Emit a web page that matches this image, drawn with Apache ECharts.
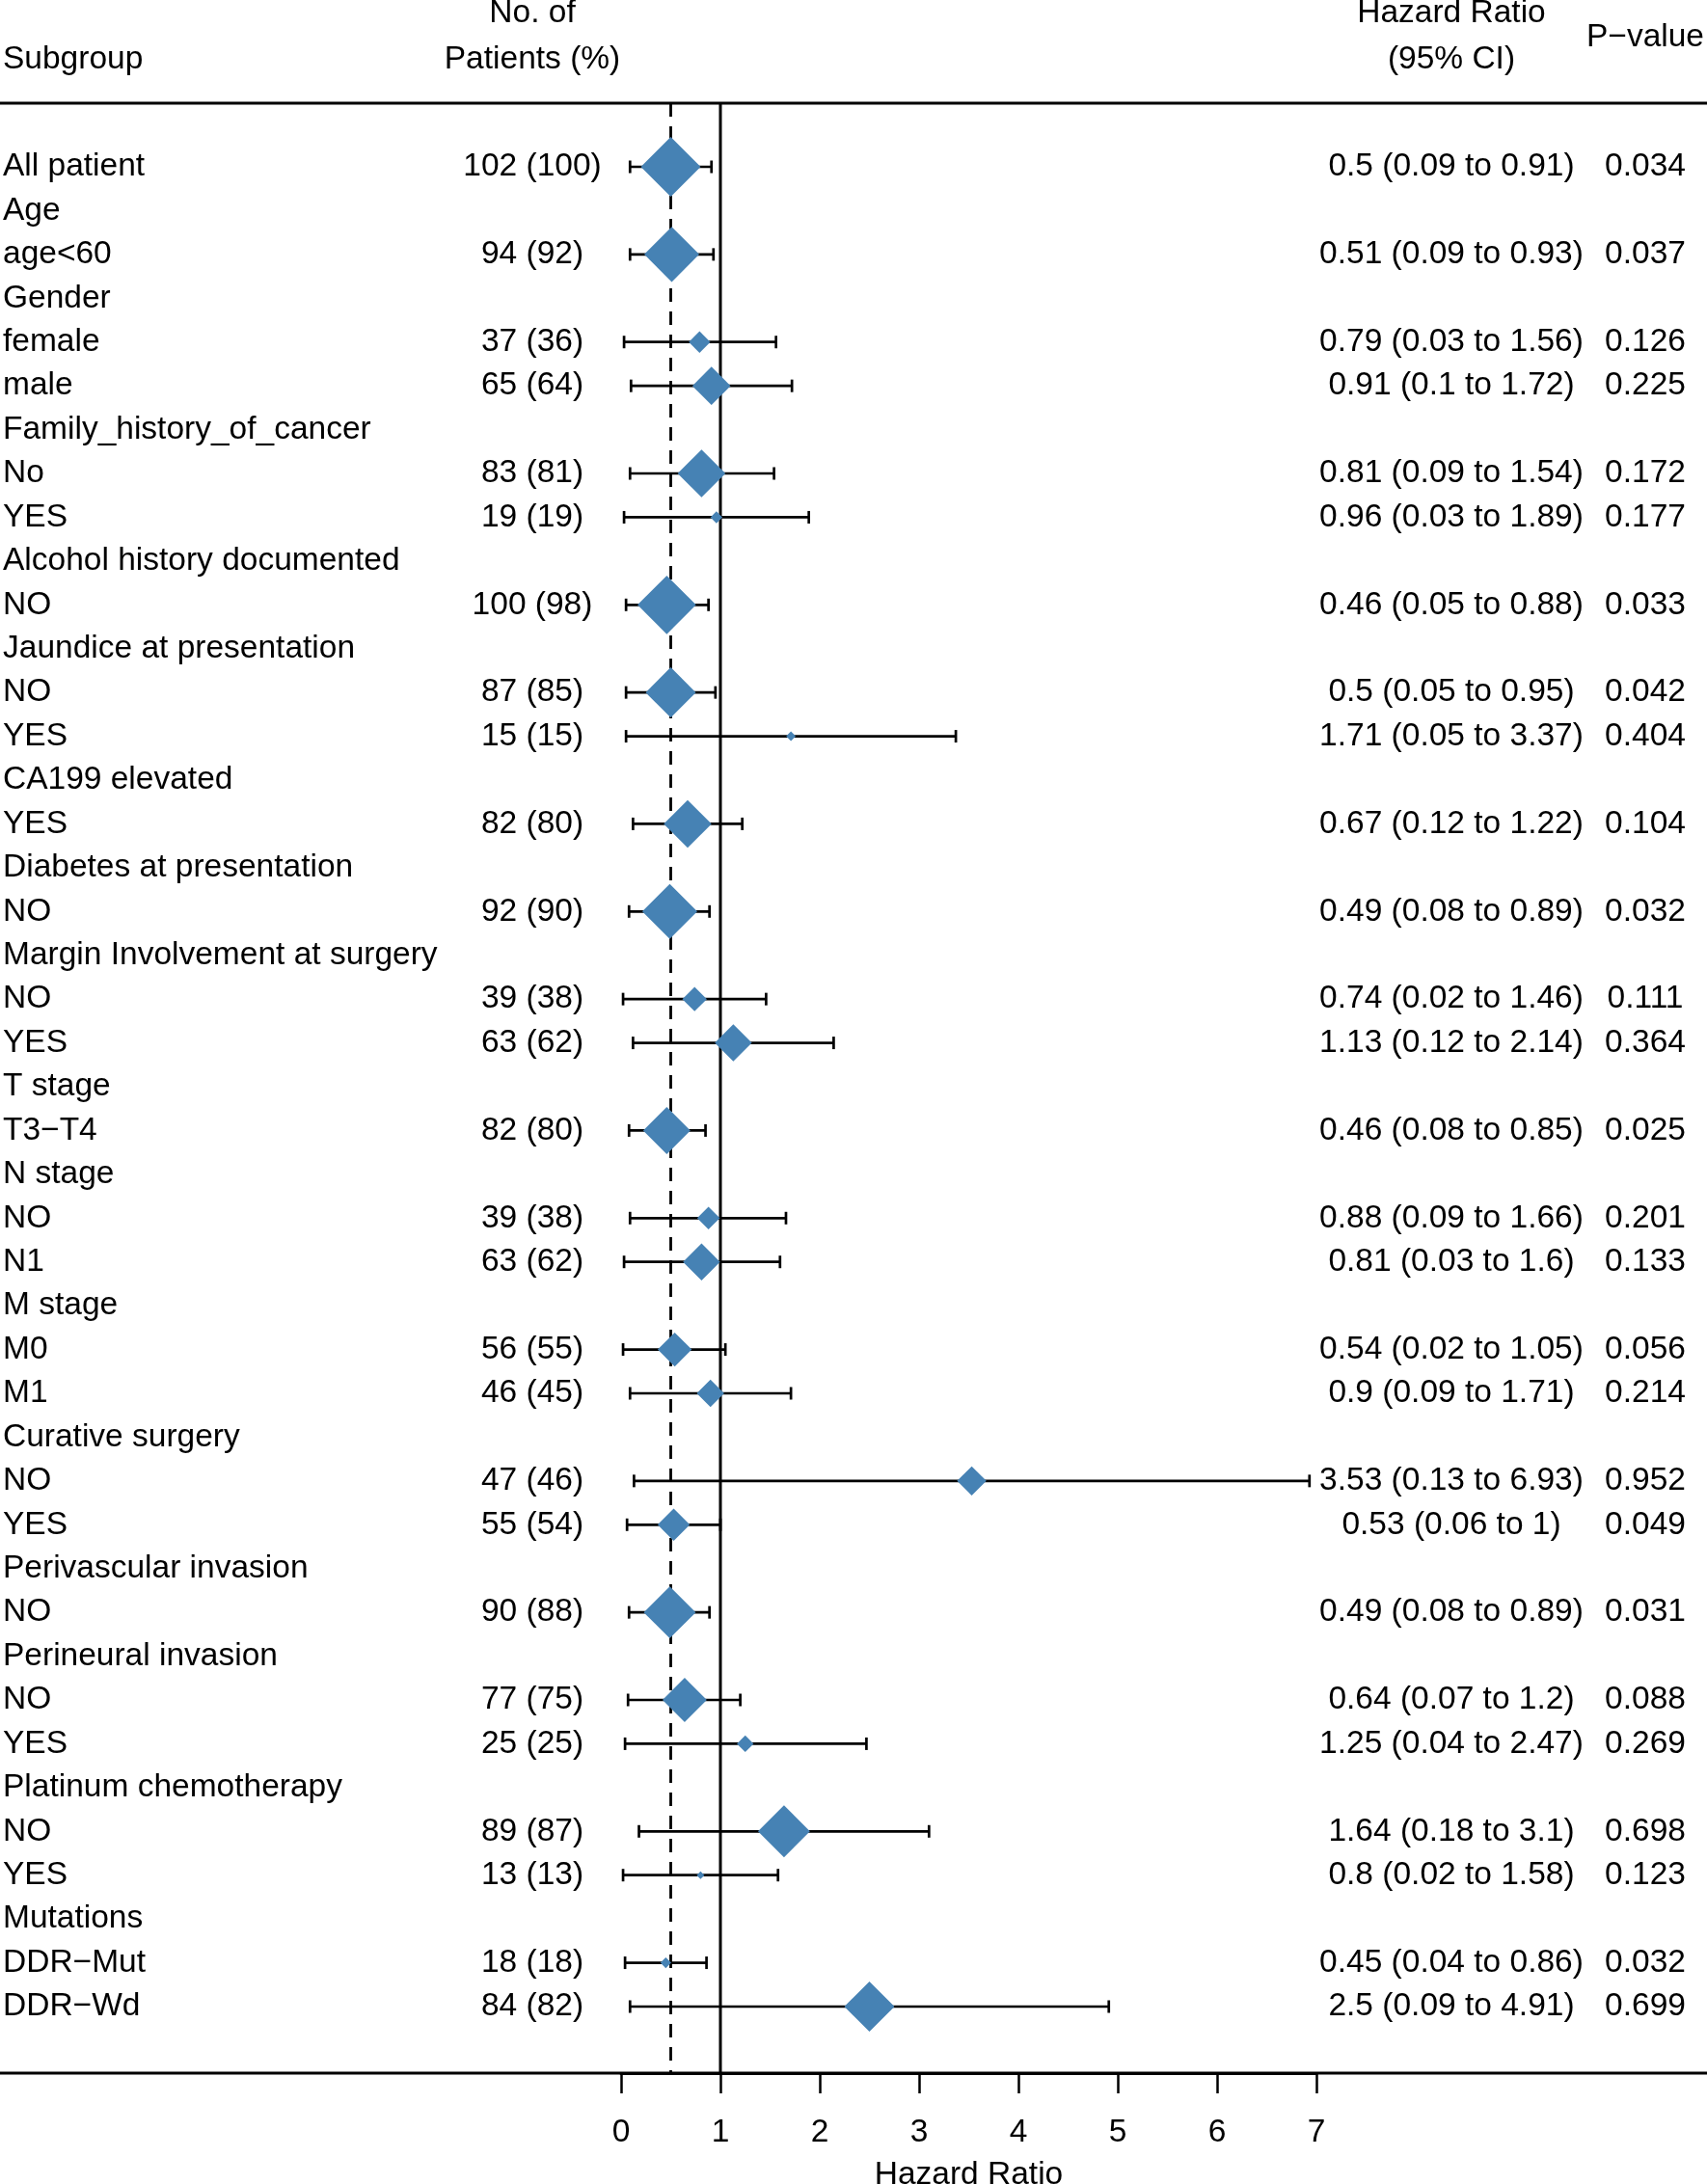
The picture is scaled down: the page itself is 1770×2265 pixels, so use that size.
<!DOCTYPE html>
<html><head><meta charset="utf-8">
<script src="https://cdn.jsdelivr.net/npm/echarts@6/dist/echarts.min.js"></script>
<style>html,body{margin:0;padding:0;background:#fff}#chart{width:1770px;height:2265px}</style>
</head><body><div id="chart"></div>
<script>
// ---------- data ----------
const subgroups = ["All patient","Age","age<60","Gender","female","male","Family_history_of_cancer","No","YES",
  "Alcohol history documented","NO","Jaundice at presentation","NO","YES","CA199 elevated","YES",
  "Diabetes at presentation","NO","Margin Involvement at surgery","NO","YES","T stage","T3\u2212T4",
  "N stage","NO","N1","M stage","M0","M1","Curative surgery","NO","YES","Perivascular invasion","NO",
  "Perineural invasion","NO","YES","Platinum chemotherapy","NO","YES","Mutations","DDR\u2212Mut","DDR\u2212Wd"];
const patients = ["102 (100)","","94 (92)","","37 (36)","65 (64)","","83 (81)","19 (19)","","100 (98)","",
  "87 (85)","15 (15)","","82 (80)","","92 (90)","","39 (38)","63 (62)","","82 (80)","","39 (38)","63 (62)","",
  "56 (55)","46 (45)","","47 (46)","55 (54)","","90 (88)","","77 (75)","25 (25)","","89 (87)","13 (13)","",
  "18 (18)","84 (82)"];
const hr     = [0.5,null,0.51,null,0.79,0.91,null,0.81,0.96,null,0.46,null,0.5,1.71,null,0.67,null,0.49,null,0.74,1.13,null,0.46,null,0.88,0.81,null,0.54,0.9,null,3.53,0.53,null,0.49,null,0.64,1.25,null,1.64,0.8,null,0.45,2.5];
const ciLow  = [0.09,null,0.09,null,0.03,0.1,null,0.09,0.03,null,0.05,null,0.05,0.05,null,0.12,null,0.08,null,0.02,0.12,null,0.08,null,0.09,0.03,null,0.02,0.09,null,0.13,0.06,null,0.08,null,0.07,0.04,null,0.18,0.02,null,0.04,0.09];
const ciHigh = [0.91,null,0.93,null,1.56,1.72,null,1.54,1.89,null,0.88,null,0.95,3.37,null,1.22,null,0.89,null,1.46,2.14,null,0.85,null,1.66,1.6,null,1.05,1.71,null,6.93,1,null,0.89,null,1.2,2.47,null,3.1,1.58,null,0.86,4.91];
const pValues = ["0.034","","0.037","","0.126","0.225","","0.172","0.177","","0.033","","0.042","0.404","","0.104","",
  "0.032","","0.111","0.364","","0.025","","0.201","0.133","","0.056","0.214","","0.952","0.049","","0.031","",
  "0.088","0.269","","0.698","0.123","","0.032","0.699"];
// relative box weight (largest = 1)
const weights = [1.00,null,0.92,null,0.36,0.64,null,0.80,0.20,null,0.98,null,0.84,0.16,null,0.80,null,0.92,null,0.41,0.62,null,0.79,null,0.38,0.62,null,0.57,0.46,null,0.49,0.54,null,0.87,null,0.74,0.28,null,0.87,0.13,null,0.18,0.84];
const xTicks = [0,1,2,3,4,5,6,7];
const refLines = [{value: 1, dashed: false}, {value: 0.5, dashed: true}];

// ---------- layout ----------
const FONT = '"Liberation Sans", Arial, Helvetica, sans-serif';
const FS = 33.5;
// rows are placed at y = -rowIndex (row 0 on top)
const Y_MIN = -43.519, Y_MAX = 1.453;
const MAX_BOX = 62;
const BLUE = '#4682B4';

function fmtHR(i){ return hr[i] == null ? '' : hr[i] + ' (' + ciLow[i] + ' to ' + ciHigh[i] + ')'; }

const forestData = [];
hr.forEach((v, i) => { if (v != null) forestData.push([v, -i, ciLow[i], ciHigh[i], weights[i]]); });
const tableData = subgroups.map((s, i) => [0, -i, i]);

const chart = echarts.init(document.getElementById('chart'), null, {renderer: 'canvas'});

const txt = (text, x, y, align) => ({
  type: 'text', style: {text, x, y, fill: '#000', fontSize: FS, fontFamily: FONT, align, verticalAlign: 'middle'}
});

chart.setOption({
  animation: false,
  backgroundColor: '#fff',
  grid: {left: 644, right: 405, top: 107, bottom: 115, containLabel: false, outerBoundsMode: 'none'},
  xAxis: {
    type: 'value', min: 0, max: 7, interval: 1, position: 'bottom',
    axisLine: {show: true, onZero: false, lineStyle: {color: '#000', width: 3}},
    axisTick: {show: true, inside: false, length: 21, lineStyle: {color: '#000', width: 2.5}},
    axisLabel: {color: '#000', fontSize: FS, fontFamily: FONT, margin: 45,
      formatter: v => xTicks.includes(v) ? String(v) : ''},
    splitLine: {show: false},
    name: 'Hazard Ratio', nameLocation: 'middle', nameGap: 89,
    nameTextStyle: {color: '#000', fontSize: FS, fontFamily: FONT}
  },
  yAxis: {type: 'value', min: Y_MIN, max: Y_MAX, show: false},
  graphic: [
    {type: 'line', shape: {x1: 0, y1: 107, x2: 1770, y2: 107}, style: {stroke: '#000', lineWidth: 3}, z: 10},
    {type: 'line', shape: {x1: 0, y1: 2150, x2: 1770, y2: 2150}, style: {stroke: '#000', lineWidth: 3}, z: 10},
    {type: 'text', style: {text: 'Subgroup', x: 3, y: 62, fill: '#000', fontSize: FS, fontFamily: FONT, align: 'left', verticalAlign: 'middle'}},
    {type: 'text', style: {text: 'No. of', x: 552, y: 14, fill: '#000', fontSize: FS, fontFamily: FONT, align: 'center', verticalAlign: 'middle'}},
    {type: 'text', style: {text: 'Patients (%)', x: 552, y: 62, fill: '#000', fontSize: FS, fontFamily: FONT, align: 'center', verticalAlign: 'middle'}},
    {type: 'text', style: {text: 'Hazard Ratio', x: 1505, y: 14, fill: '#000', fontSize: FS, fontFamily: FONT, align: 'center', verticalAlign: 'middle'}},
    {type: 'text', style: {text: '(95% CI)', x: 1505, y: 62, fill: '#000', fontSize: FS, fontFamily: FONT, align: 'center', verticalAlign: 'middle'}},
    {type: 'text', style: {text: 'P\u2212value', x: 1706, y: 39, fill: '#000', fontSize: FS, fontFamily: FONT, align: 'center', verticalAlign: 'middle'}}
  ],
  series: [
    {
      type: 'custom', name: 'ref', z: 1, clip: false,
      data: refLines.map(r => [r.value, r.dashed ? 1 : 0]),
      encode: {x: 0},
      renderItem: (params, api) => {
        const v = api.value(0);
        const p1 = api.coord([v, Y_MAX]);
        const p2 = api.coord([v, Y_MIN]);
        const dashed = api.value(1) === 1;
        return {type: 'line', shape: {x1: p1[0], y1: p1[1], x2: p2[0], y2: p2[1]},
          style: {stroke: '#000', lineWidth: dashed ? 2.8 : 3, lineDash: dashed ? [14, 10] : null}};
      }
    },
    {
      type: 'custom', name: 'forest', z: 5, clip: false,
      data: forestData,
      encode: {x: [0, 2, 3], y: 1},
      renderItem: (params, api) => {
        const row = api.value(1);
        const c = api.coord([api.value(0), row]);
        const l = api.coord([api.value(2), row]);
        const h = api.coord([api.value(3), row]);
        const s = MAX_BOX * api.value(4) / 2;
        const cap = 6.5;
        return {type: 'group', children: [
          {type: 'line', shape: {x1: l[0], y1: l[1], x2: h[0], y2: h[1]}, style: {stroke: '#000', lineWidth: 2.7}},
          {type: 'line', shape: {x1: l[0], y1: l[1] - cap, x2: l[0], y2: l[1] + cap}, style: {stroke: '#000', lineWidth: 2.7}},
          {type: 'line', shape: {x1: h[0], y1: h[1] - cap, x2: h[0], y2: h[1] + cap}, style: {stroke: '#000', lineWidth: 2.7}},
          {type: 'polygon', shape: {points: [[c[0] - s, c[1]], [c[0], c[1] - s], [c[0] + s, c[1]], [c[0], c[1] + s]]},
            style: {fill: BLUE}}
        ]};
      }
    },
    {
      type: 'custom', name: 'table', z: 6, clip: false,
      data: tableData,
      encode: {x: 0, y: 1},
      renderItem: (params, api) => {
        const i = api.value(2);
        const y = api.coord([0, api.value(1)])[1];
        const kids = [txt(subgroups[i], 3, y, 'left')];
        if (patients[i]) kids.push(txt(patients[i], 552, y, 'center'));
        if (hr[i] != null) kids.push(txt(fmtHR(i), 1505, y, 'center'));
        if (pValues[i]) kids.push(txt(pValues[i], 1706, y, 'center'));
        return {type: 'group', children: kids};
      }
    }
  ]
});
</script>
</body></html>
